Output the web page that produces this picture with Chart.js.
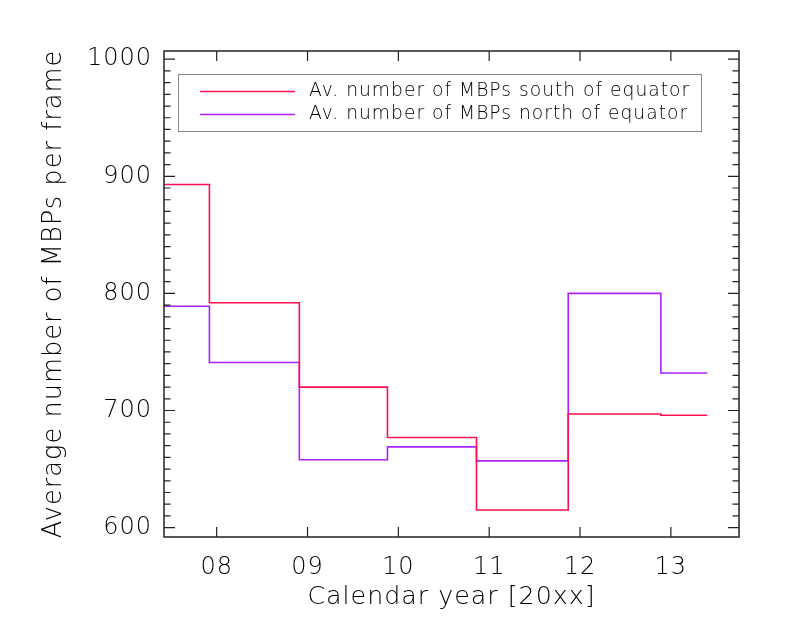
<!DOCTYPE html>
<html>
<head>
<meta charset="utf-8">
<script src="https://cdn.jsdelivr.net/npm/chart.js@4/dist/chart.umd.min.js"></script>
<style>
  html, body { margin: 0; padding: 0; background: #fff; }
  canvas { display: block; background: #fff; }
</style>
</head>
<body>
<canvas id="mbpChart" width="789" height="641"></canvas>
<script>
// bin edges in years since 2000 (last one closes the final bin)
const binEdges = [6.92, 7.92, 8.91, 9.88, 10.86, 11.87, 12.89, 13.40];
const southAvg = [893, 792, 720, 677, 615, 697, 696];
const northAvg = [789, 741, 658, 669, 657, 800, 732];

const yearTicks = [8, 9, 10, 11, 12, 13];
const yearLabels = ['08', '09', '10', '11', '12', '13'];
const yMajor = [600, 700, 800, 900, 1000];

const seriesNames = ['Av. number of MBPs south of equator', 'Av. number of MBPs north of equator'];
const seriesColors = ['#ff1050', '#aa22ff'];

const FONT = "'DejaVu Sans', sans-serif";
const INK = '#000';

function stepPoints(vals) {
  return binEdges.map((x, i) => ({ x: x, y: vals[Math.min(i, vals.length - 1)] }));
}

// wide, light lettering like the IDL vector font
const spacing = {
  id: 'spacing',
  beforeDraw(chart) { chart.ctx.letterSpacing = '1px'; }
};

// IDL style box with inward ticks on every side
const frameTicks = {
  id: 'frameTicks',
  afterDatasetsDraw(chart) {
    const { ctx, chartArea: a, scales } = chart;
    ctx.save();
    ctx.strokeStyle = '#222';
    ctx.lineWidth = 1.2;
    ctx.beginPath();
    yearTicks.forEach(v => {
      const px = scales.x.getPixelForValue(v);
      ctx.moveTo(px, a.bottom); ctx.lineTo(px, a.bottom - 10);
      ctx.moveTo(px, a.top); ctx.lineTo(px, a.top + 10);
    });
    for (let v = 600; v <= 1000; v += 10) {
      const py = scales.y.getPixelForValue(v);
      const len = yMajor.includes(v) ? 11 : 6.5;
      ctx.moveTo(a.left, py); ctx.lineTo(a.left + len, py);
      ctx.moveTo(a.right, py); ctx.lineTo(a.right - len, py);
    }
    ctx.stroke();
    ctx.lineWidth = 1.5;
    ctx.strokeRect(a.left, a.top, a.right - a.left, a.bottom - a.top);
    ctx.restore();
  }
};

// legend box inside the plot, upper part
const boxLegend = {
  id: 'boxLegend',
  afterDraw(chart) {
    const { ctx } = chart;
    const a = chart.chartArea;
    const x0 = a.left + 14, y0 = a.top + 23;
    const w = 523, h = 57;
    ctx.save();
    ctx.fillStyle = '#fff';
    ctx.fillRect(x0, y0, w, h);
    ctx.strokeStyle = '#888';
    ctx.lineWidth = 1;
    ctx.strokeRect(x0 + 0.5, y0 + 0.5, w, h);
    ctx.font = '300 18.7px ' + FONT;
    ctx.textBaseline = 'middle';
    chart.data.datasets.forEach((ds, i) => {
      const ly = y0 + 17.5 + i * 23;
      ctx.strokeStyle = ds.borderColor;
      ctx.lineWidth = 1.3;
      ctx.beginPath();
      ctx.moveTo(x0 + 22, ly);
      ctx.lineTo(x0 + 117, ly);
      ctx.stroke();
      ctx.fillStyle = INK;
      ctx.fillText(ds.label, x0 + 131, ly);
    });
    ctx.restore();
  }
};

new Chart(document.getElementById('mbpChart'), {
  type: 'line',
  data: {
    datasets: [
      { label: seriesNames[0], data: stepPoints(southAvg), borderColor: seriesColors[0] },
      { label: seriesNames[1], data: stepPoints(northAvg), borderColor: seriesColors[1] }
    ]
  },
  options: {
    responsive: false,
    animation: false,
    layout: { padding: { top: 51, right: 50, left: 0, bottom: 0 } },
    elements: {
      line: { stepped: 'before', borderWidth: 1.6, fill: false, tension: 0 },
      point: { radius: 0 }
    },
    plugins: { legend: { display: false }, tooltip: { enabled: false } },
    scales: {
      x: {
        type: 'linear',
        min: 7.42,
        max: 13.75,
        afterFit(s) { s.height = 104; },
        grid: { display: false, drawTicks: false },
        border: { display: false },
        ticks: {
          stepSize: 1,
          includeBounds: false,
          maxRotation: 0,
          padding: 16,
          color: INK,
          font: { family: FONT, size: 24, weight: 300 },
          callback: v => {
            const k = yearTicks.indexOf(v);
            return k >= 0 ? yearLabels[k] : '';
          }
        },
        title: {
          display: true,
          text: 'Calendar year [20xx]',
          color: INK,
          font: { family: FONT, size: 25.3, weight: 300 },
          padding: { top: 0, bottom: 28 }
        }
      },
      y: {
        min: 592,
        max: 1007,
        afterFit(s) { s.width = 164; },
        grid: { display: false, drawTicks: false },
        border: { display: false },
        ticks: {
          stepSize: 100,
          includeBounds: false,
          padding: 12,
          color: INK,
          font: { family: FONT, size: 24, weight: 300 },
          callback: v => String(v)
        },
        title: {
          display: true,
          text: 'Average number of MBPs per frame',
          color: INK,
          font: { family: FONT, size: 25.7, weight: 300 },
          padding: { top: 39, bottom: 0 }
        }
      }
    }
  },
  plugins: [spacing, frameTicks, boxLegend]
});
</script>
</body>
</html>
